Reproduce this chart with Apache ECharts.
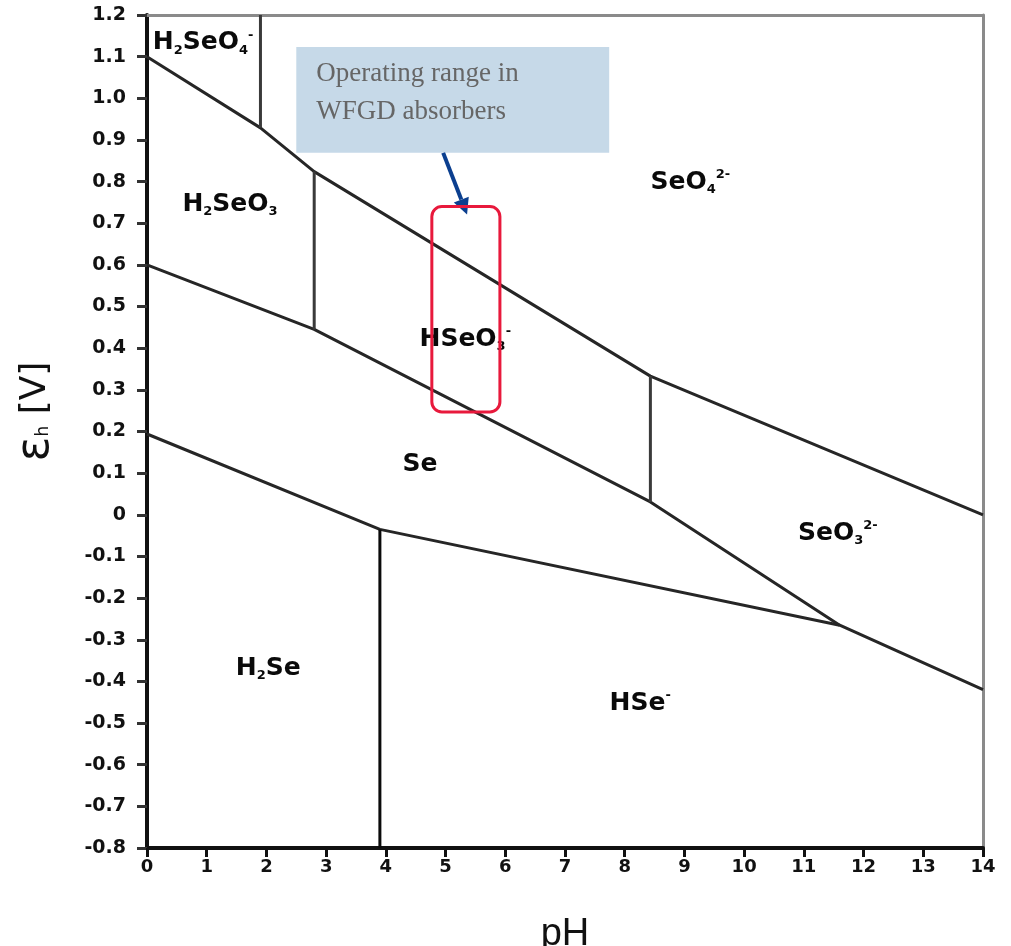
<!DOCTYPE html>
<html>
<head>
<meta charset="utf-8">
<script src="https://cdn.jsdelivr.net/npm/echarts@6/dist/echarts.min.js"></script>
<style>
html,body{margin:0;padding:0;background:#fff;}
#chart{width:1011px;height:946px;}
</style>
</head>
<body>
<div id="chart"></div>
<script>
// ---- Data ----
// Se(VI)/Se(IV) boundary
const upperPH = [0, 1.9, 2.8, 8.43, 14];
const upperE  = [1.10, 0.929, 0.824, 0.333, 0.0];
// Se(IV)/Se(0) boundary
const middlePH = [0, 2.8, 8.43, 11.6, 14];
const middleE  = [0.60, 0.445, 0.031, -0.265, -0.42];
// Se(0)/Se(-II) boundary
const lowerPH = [0, 3.9, 11.6];
const lowerE  = [0.194, -0.035, -0.265];
// vertical (acid-base) boundaries: pH, E from, E to
const vertPH   = [1.9, 2.8, 8.43, 3.9];
const vertFrom = [0.929, 0.445, 0.031, -0.8];
const vertTo   = [1.2, 0.824, 0.333, -0.035];
// species labels
const speciesPH = [0.94, 1.39, 5.33, 9.1, 11.57, 4.57, 2.03, 8.26];
const speciesE  = [1.133, 0.745, 0.422, 0.798, -0.045, 0.12, -0.369, -0.453];
const speciesText = [
  'H{s|2}SeO{s|4}{p|-}',
  'H{s|2}SeO{s|3}',
  'HSeO{s|3}{p|-}',
  'SeO{s|4}{p|2-}',
  'SeO{s|3}{p|2-}',
  'Se',
  'H{s|2}Se',
  'HSe{p|-}'
];
// operating range box (pH, E)
const opPH = [4.77, 5.91];
const opE  = [0.247, 0.740];
// callout box corners and arrow (pH, E)
const calloutPH = [2.5, 7.74];
const calloutE  = [1.123, 0.869];
const arrowPH = [4.96, 5.36];
const arrowE  = [0.869, 0.721];
const calloutText = ['Operating range in', 'WFGD absorbers'];
const xTicks = [0, 14, 1];
const yTicks = [-0.8, 1.2, 0.1];

const zip = (a, b) => a.map((v, i) => [v, b[i]]);

const lineStyleMain = { color: '#262626', width: 3 };
const series = [
  { type: 'line', data: zip(upperPH, upperE), symbol: 'none', lineStyle: lineStyleMain, silent: true },
  { type: 'line', data: zip(middlePH, middleE), symbol: 'none', lineStyle: lineStyleMain, silent: true },
  { type: 'line', data: zip(lowerPH, lowerE), symbol: 'none', lineStyle: lineStyleMain, silent: true }
];
vertPH.forEach((p, i) => {
  series.push({
    type: 'line', symbol: 'none', silent: true,
    data: [[p, vertFrom[i]], [p, vertTo[i]]],
    lineStyle: { color: i === 3 ? '#0a0a0a' : '#3a3a3a', width: 3 }
  });
});
const lblBase = { fontFamily: 'DejaVu Sans', fontWeight: 'bold', color: '#0a0a0a' };
series.push({
  type: 'scatter', symbolSize: 0, silent: true, z: 5,
  itemStyle: { opacity: 1 },
  data: speciesPH.map((p, i) => [p, speciesE[i]]),
  label: {
    show: true, position: 'inside',
    formatter: (prm) => speciesText[prm.dataIndex],
    fontFamily: 'DejaVu Sans', fontWeight: 'bold', fontSize: 25, color: '#0a0a0a',
    textBorderWidth: 0, opacity: 1,
    rich: {
      s: Object.assign({ fontSize: 13, padding: [15, 0, 0, 0] }, lblBase),
      p: Object.assign({ fontSize: 13, padding: [0, 0, 15, 0] }, lblBase)
    }
  }
});

const chart = echarts.init(document.getElementById('chart'), null, { renderer: 'canvas' });
chart.setOption({
  animation: false,
  backgroundColor: '#fff',
  grid: { left: 147, right: 28, top: 15, bottom: 98, containLabel: false, outerBoundsMode: 'none' },
  xAxis: [{
    type: 'value', min: xTicks[0], max: xTicks[1], interval: xTicks[2],
    name: 'pH', nameLocation: 'middle', nameGap: 68,
    nameTextStyle: { fontFamily: 'Liberation Sans', fontSize: 38, color: '#111' },
    axisLine: { onZero: false, lineStyle: { color: '#111', width: 4 } },
    axisTick: { length: 9, lineStyle: { color: '#111', width: 3 } },
    axisLabel: { fontFamily: 'DejaVu Sans', fontWeight: 'bold', fontSize: 18, color: '#111', margin: 10 },
    splitLine: { show: false }
  }, {
    type: 'value', position: 'top', min: xTicks[0], max: xTicks[1],
    axisLine: { show: true, onZero: false, lineStyle: { color: '#8a8a8a', width: 3 } },
    axisTick: { show: false }, axisLabel: { show: false }, splitLine: { show: false }
  }],
  yAxis: [{
    type: 'value', min: yTicks[0], max: yTicks[1], interval: yTicks[2],
    name: '{e|ε}{h|h} [V]', nameLocation: 'middle', nameGap: 88, nameRotate: 90,
    nameTextStyle: {
      fontFamily: 'DejaVu Sans', fontSize: 36, color: '#111', padding: [0, 0, 0, 40],
      rich: {
        e: { fontFamily: 'DejaVu Sans', fontSize: 46, color: '#111' },
        h: { fontFamily: 'DejaVu Sans', fontSize: 17, color: '#111', padding: [16, 0, 0, 0] }
      }
    },
    axisLine: { onZero: false, lineStyle: { color: '#111', width: 4 } },
    axisTick: { length: 10, lineStyle: { color: '#333', width: 3 } },
    axisLabel: {
      fontFamily: 'DejaVu Sans', fontWeight: 'bold', fontSize: 19, color: '#111', margin: 21,
      formatter: (v) => Math.abs(v) < 1e-9 ? '0' : v.toFixed(1)
    },
    splitLine: { show: false }
  }, {
    type: 'value', position: 'right', min: yTicks[0], max: yTicks[1],
    axisLine: { show: true, onZero: false, lineStyle: { color: '#8a8a8a', width: 3 } },
    axisTick: { show: false }, axisLabel: { show: false }, splitLine: { show: false }
  }],
  series: series
});

// annotations positioned via the axes' scales
const px = (p, e) => chart.convertToPixel({ xAxisIndex: 0, yAxisIndex: 0 }, [p, e]);
const c1 = px(calloutPH[0], calloutE[0]);
const c2 = px(calloutPH[1], calloutE[1]);
const o1 = px(opPH[0], opE[1]);
const o2 = px(opPH[1], opE[0]);
const a1 = px(arrowPH[0], arrowE[0]);
const a2 = px(arrowPH[1], arrowE[1]);
const ang = Math.atan2(a2[1] - a1[1], a2[0] - a1[0]);
const headLen = 16, headW = 8;
const back = [a2[0] - headLen * Math.cos(ang), a2[1] - headLen * Math.sin(ang)];
const nx = -Math.sin(ang), ny = Math.cos(ang);

chart.setOption({
  graphic: [
    {
      type: 'rect', z: 100,
      shape: { x: c1[0], y: c1[1], width: c2[0] - c1[0], height: c2[1] - c1[1] },
      style: { fill: '#c6d9e8' }
    },
    {
      type: 'text', z: 101, x: c1[0] + 20, y: c1[1] + 8,
      style: {
        text: calloutText.join('\n'), fill: '#666',
        font: '27px "Liberation Serif", serif', lineHeight: 38
      }
    },
    {
      type: 'line', z: 102,
      shape: { x1: a1[0], y1: a1[1], x2: back[0], y2: back[1] },
      style: { stroke: '#0b3f8f', lineWidth: 4 }
    },
    {
      type: 'polygon', z: 102,
      shape: { points: [a2, [back[0] + nx * headW, back[1] + ny * headW], [back[0] - nx * headW, back[1] - ny * headW]] },
      style: { fill: '#0b3f8f' }
    },
    {
      type: 'rect', z: 103,
      shape: { x: o1[0], y: o1[1], width: o2[0] - o1[0], height: o2[1] - o1[1], r: 10 },
      style: { fill: 'none', stroke: '#e8193c', lineWidth: 3 }
    }
  ]
});
</script>
</body>
</html>
